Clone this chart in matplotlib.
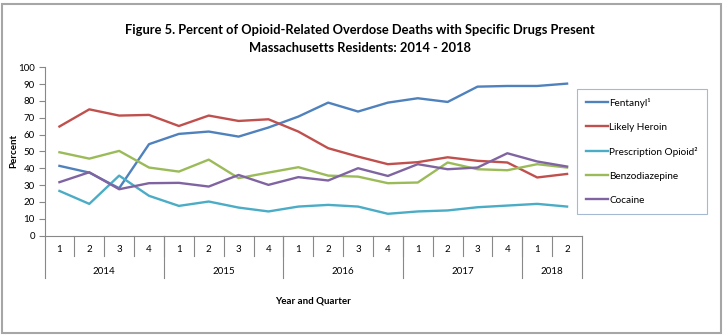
import matplotlib
matplotlib.use("Agg")
import matplotlib.pyplot as plt
from matplotlib.patches import Rectangle
from matplotlib.lines import Line2D

years = ["2014", "2015", "2016", "2017", "2018"]
quarters_per_year = [4, 4, 4, 4, 2]
quarter_labels = ["1", "2", "3", "4"] * 4 + ["1", "2"]

series_names = ["Fentanyl\u00b9", "Likely Heroin", "Prescription Opioid\u00b2", "Benzodiazepine", "Cocaine"]
fentanyl = [41.4, 37.4, 28.1, 54.3, 60.4, 61.8, 58.8, 64.2, 70.7, 79.0, 73.7, 79.0, 81.6, 79.4, 88.5, 88.9, 88.9, 90.3]
heroin = [64.8, 75.0, 71.3, 71.7, 65.1, 71.3, 68.1, 69.1, 61.8, 51.9, 46.9, 42.4, 43.6, 46.5, 44.4, 43.4, 34.5, 36.6]
prescription = [26.5, 18.8, 35.6, 23.6, 17.6, 20.2, 16.6, 14.3, 17.2, 18.2, 17.2, 12.9, 14.3, 14.9, 16.8, 17.8, 18.8, 17.2]
benzo = [49.5, 45.7, 50.3, 40.4, 38.0, 45.1, 34.1, 37.4, 40.6, 35.6, 35.0, 31.1, 31.5, 43.4, 39.4, 38.8, 42.4, 40.4]
cocaine = [31.7, 37.6, 27.5, 31.1, 31.3, 29.1, 36.0, 30.1, 34.7, 32.7, 40.0, 35.4, 42.4, 39.4, 40.4, 48.9, 44.0, 41.0]
colors = ["#4F81BD", "#C0504D", "#4BACC6", "#9BBB59", "#8064A2"]

plt.rcParams['font.family'] = ['Lato', 'DejaVu Sans']

W, H = 725, 336
fig = plt.figure(figsize=(W / 100, H / 100), dpi=100)

# outer frame
fig.patches.append(Rectangle((2 / W, 3.5 / H), 719 / W, 329 / H, transform=fig.transFigure,
                             fill=False, edgecolor="#A6A6A6", linewidth=1.5))

ax_l, ax_r, ax_b, ax_t = 44.5, 582, 235.5, 67.3
ax = fig.add_axes([ax_l / W, 1 - ax_b / H, (ax_r - ax_l) / W, (ax_b - ax_t) / H])
ax_h = ax_b - ax_t

x = list(range(len(quarter_labels)))
for vals, c, name in zip([fentanyl, heroin, prescription, benzo, cocaine], colors, series_names):
    ax.plot(x, vals, color=c, linewidth=1.7, label=name, solid_joinstyle="round")

ax.set_xlim(-0.5, len(x) - 0.5)
ax.set_ylim(0, 100)
ax.set_yticks(range(0, 101, 10))
ax.tick_params(axis="y", labelsize=7, length=4, color="#888888", width=0.8, pad=3)
ax.set_xticks([])
for s in ["top", "right"]:
    ax.spines[s].set_visible(False)
for s in ["left", "bottom"]:
    ax.spines[s].set_color("#888888")
    ax.spines[s].set_linewidth(0.8)

tr = ax.get_xaxis_transform()
q_bot = -(256 - ax_b) / ax_h
y_bot = -(277.5 - ax_b) / ax_h
q_lab = -(249.3 - ax_b) / ax_h
y_lab = -(271 - ax_b) / ax_h

for i, ql in enumerate(quarter_labels):
    ax.text(i, q_lab, ql, transform=tr, ha="center", va="center", fontsize=7)
for i in range(1, len(x)):
    ax.add_line(Line2D([i - 0.5, i - 0.5], [0, q_bot], transform=tr, color="#888888",
                       linewidth=0.8, clip_on=False))
start = 0
bounds = [-0.5]
for yr, n in zip(years, quarters_per_year):
    ax.text(start + (n - 1) / 2, y_lab, yr, transform=tr, ha="center", va="center", fontsize=7)
    start += n
    bounds.append(start - 0.5)
for b in bounds:
    ax.add_line(Line2D([b, b], [0, y_bot], transform=tr, color="#888888",
                       linewidth=0.8, clip_on=False))

fig.text(360 / W, 1 - 30.5 / H, "Figure 5. Percent of Opioid-Related Overdose Deaths with Specific Drugs Present",
         ha="center", va="center", fontsize=9.3, fontweight="bold")
fig.text(360 / W, 1 - 47.5 / H, "Massachusetts Residents: 2014 - 2018",
         ha="center", va="center", fontsize=9.3, fontweight="bold")
fig.text(313 / W, 1 - 301 / H, "Year and Quarter", ha="center", va="center", fontsize=7, fontweight="bold")
fig.text(14 / W, 1 - 151 / H, "Percent", ha="center", va="center", fontsize=7, fontweight="bold", rotation=90)

leg = ax.legend(loc="upper left", bbox_to_anchor=(577 / W, 1 - 89 / H), bbox_transform=fig.transFigure,
                fontsize=7.2, frameon=True, fancybox=False, edgecolor="#8FA8C8",
                handlelength=2.2, handletextpad=0.1, labelspacing=1.5, borderpad=0.9,
                borderaxespad=0)
leg.get_frame().set_linewidth(0.8)

fig.savefig("out.png", dpi=100)
